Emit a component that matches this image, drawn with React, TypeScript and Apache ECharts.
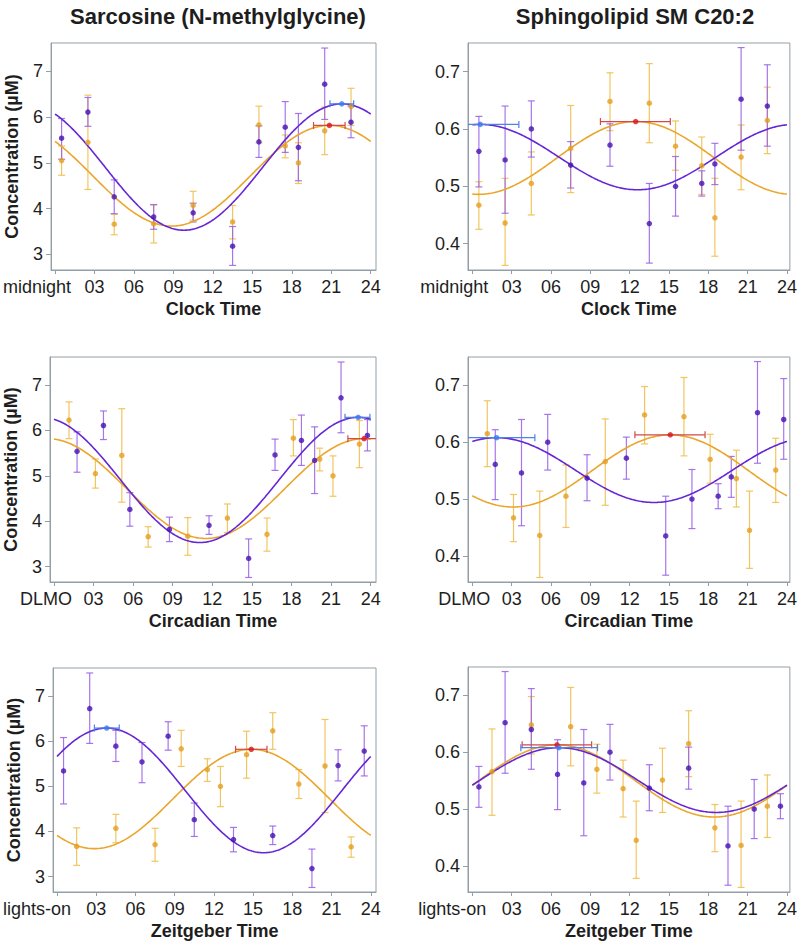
import React, { useEffect, useRef } from "react";
import * as echarts from "echarts";

const FONT = '"Liberation Sans", Arial, Helvetica, sans-serif';

const panelTitles = ["Sarcosine (N-methylglycine)", "Sphingolipid SM C20:2"];
const axisNames = ["Clock Time", "Circadian Time", "Zeitgeber Time"];
const firstTickLabels = ["midnight", "DLMO", "lights-on"];
const firstTickShift = [36, 16, 40];
const xTickValues = [0, 3, 6, 9, 12, 15, 18, 21, 24];
const sarcYTicks = [3, 4, 5, 6, 7];
const sphYTicks = [0.4, 0.5, 0.6, 0.7];
const yAxisName = "Concentration (µM)";

// sampling times for each time frame (row) — purple group and orange group
const purpleClockTimes = [0.5, 2.5, 4.5, 7.5, 10.5, 13.5, 15.5, 17.5, 18.5, 20.5, 22.5];
const orangeClockTimes = [0.5, 2.5, 4.5, 7.5, 10.5, 13.5, 15.5, 17.5, 18.5, 20.5, 22.5];
const purpleCircadianTimes = [1.75, 3.75, 5.75, 8.75, 11.75, 14.75, 16.75, 18.75, 19.75, 21.75, 23.75];
const orangeCircadianTimes = [3.14, 5.14, 7.14, 10.14, 13.14, 16.14, 18.14, 20.14, 21.14, 23.14, 1.14];
const purpleZeitgeberTimes = [6.5, 8.5, 10.5, 13.5, 16.5, 19.5, 21.5, 23.5, 0.5, 2.5, 4.5];
const orangeZeitgeberTimes = [18.5, 20.5, 22.5, 1.5, 4.5, 7.5, 9.5, 11.5, 12.5, 14.5, 16.5];

// Sarcosine values (same sample order as the time arrays)
const sarcPurpleMean = [5.54, 6.11, 4.26, 3.82, 3.91, 3.18, 5.46, 5.78, 5.34, 6.72, 5.89];
const sarcPurpleLow = [5.08, 5.8, 3.89, 3.55, 3.71, 2.76, 5.12, 5.23, 4.61, 5.95, 5.55];
const sarcPurpleHigh = [5.97, 6.43, 4.63, 4.09, 4.12, 3.61, 5.81, 6.34, 6.08, 7.51, 6.24];
const sarcOrangeMean = [5.05, 5.45, 3.66, 3.67, 4.07, 3.71, 5.83, 5.37, 5.0, 5.7, 6.23];
const sarcOrangeLow = [4.73, 4.42, 3.43, 3.25, 3.75, 3.34, 5.44, 5.11, 4.55, 5.18, 5.82];
const sarcOrangeHigh = [5.37, 6.48, 3.88, 4.08, 4.38, 4.07, 6.24, 5.61, 5.44, 6.22, 6.63];

// Sphingolipid values
const sphPurpleMean = [0.561, 0.546, 0.6, 0.537, 0.572, 0.435, 0.5, 0.505, 0.539, 0.652, 0.64];
const sphPurpleLow = [0.499, 0.453, 0.551, 0.497, 0.535, 0.366, 0.448, 0.483, 0.503, 0.563, 0.57];
const sphPurpleHigh = [0.622, 0.64, 0.649, 0.578, 0.609, 0.505, 0.552, 0.527, 0.575, 0.742, 0.712];
const sphOrangeMean = [0.467, 0.436, 0.505, 0.566, 0.648, 0.645, 0.57, 0.536, 0.445, 0.551, 0.615];
const sphOrangeLow = [0.425, 0.362, 0.45, 0.489, 0.597, 0.576, 0.528, 0.486, 0.378, 0.494, 0.557];
const sphOrangeHigh = [0.508, 0.514, 0.56, 0.641, 0.698, 0.714, 0.614, 0.586, 0.514, 0.607, 0.673];

// cosinor fits: [mesor, amplitude]; acrophase per frame [clock, circadian, zeitgeber]
const sarcPurpleMesorAmp = [4.91, 1.38];
const sarcPurpleAcrophase = [21.8, 23.05, 3.8];
const sarcPurplePeakCI = [[20.9, 22.7], [22.05, 23.94], [2.86, 4.76]];
const sarcOrangeMesorAmp = [4.72, 1.1];
const sarcOrangeAcrophase = [20.86, 23.5, 14.86];
const sarcOrangePeakCI = [[19.65, 22.05], [22.27, 24.7], [13.66, 16.06]];
const sphPurpleMesorAmp = [0.551, 0.057];
const sphPurpleAcrophase = [0.6, 1.85, 6.6];
const sphPurplePeakCI = [[-2.35, 3.55], [-1.07, 4.77], [3.7, 9.55]];
const sphOrangeMesorAmp = [0.5495, 0.0635];
const sphOrangeAcrophase = [12.46, 15.1, 6.46];
const sphOrangePeakCI = [[9.77, 15.1], [12.4, 17.75], [3.8, 9.1]];

const BORDER = "#939fa6";
const TEXT = "#1e1e1e";
const PURPLE_PT = "#4510b0";
const PURPLE_ERR = "rgba(150, 95, 232, 0.85)";
const PURPLE_LINE = "#6526d6";
const ORANGE_PT = "#e59d1f";
const ORANGE_ERR = "rgba(240, 192, 80, 0.9)";
const ORANGE_LINE = "#eaa52a";
const BLUE_PT = "#3b7bf0";
const BLUE_ERR = "#4f82e2";
const RED_PT = "#d8141c";
const RED_ERR = "#d24a4a";

const purpleTimesByRow = [purpleClockTimes, purpleCircadianTimes, purpleZeitgeberTimes];
const orangeTimesByRow = [orangeClockTimes, orangeCircadianTimes, orangeZeitgeberTimes];

function cosinor(ma: number[], acro: number, t: number) {
  return ma[0] + ma[1] * Math.cos((2 * Math.PI * (t - acro)) / 24);
}

function curveData(ma: number[], acro: number) {
  const out: number[][] = [];
  for (let i = 0; i <= 240; i++) {
    const t = i / 10;
    out.push([t, cosinor(ma, acro, t)]);
  }
  return out;
}

function vBar(color: string) {
  return (params: any, api: any) => {
    const x = api.value(0);
    const a = api.coord([x, api.value(2)]);
    const b = api.coord([x, api.value(3)]);
    const st = { stroke: color, lineWidth: 1.2 };
    return {
      type: "group",
      children: [
        { type: "line", shape: { x1: a[0], y1: a[1], x2: b[0], y2: b[1] }, style: st },
        { type: "line", shape: { x1: a[0] - 3.5, y1: a[1], x2: a[0] + 3.5, y2: a[1] }, style: st },
        { type: "line", shape: { x1: b[0] - 3.5, y1: b[1], x2: b[0] + 3.5, y2: b[1] }, style: st },
      ],
    };
  };
}

function hBar(color: string) {
  return (params: any, api: any) => {
    const y = api.value(1);
    const a = api.coord([api.value(2), y]);
    const b = api.coord([api.value(3), y]);
    const st = { stroke: color, lineWidth: 1.2 };
    return {
      type: "group",
      children: [
        { type: "line", shape: { x1: a[0], y1: a[1], x2: b[0], y2: b[1] }, style: st },
        { type: "line", shape: { x1: a[0], y1: a[1] - 3.5, x2: a[0], y2: a[1] + 3.5 }, style: st },
        { type: "line", shape: { x1: b[0], y1: b[1] - 3.5, x2: b[0], y2: b[1] + 3.5 }, style: st },
      ],
    };
  };
}

const grids = [
  { left: 50, top: 43, width: 326, height: 227 },
  { left: 468, top: 43, width: 324, height: 227 },
  { left: 50, top: 357, width: 326, height: 225 },
  { left: 468, top: 357, width: 324, height: 225 },
  { left: 50, top: 668, width: 326, height: 224 },
  { left: 468, top: 667, width: 324, height: 225 },
];

function buildOption() {
  const xAxis: any[] = [];
  const yAxis: any[] = [];
  const series: any[] = [];
  for (let i = 0; i < 6; i++) {
    const row = Math.floor(i / 2);
    const col = i % 2;
    const isSarc = col === 0;
    const pMean = isSarc ? sarcPurpleMean : sphPurpleMean;
    const pLow = isSarc ? sarcPurpleLow : sphPurpleLow;
    const pHigh = isSarc ? sarcPurpleHigh : sphPurpleHigh;
    const oMean = isSarc ? sarcOrangeMean : sphOrangeMean;
    const oLow = isSarc ? sarcOrangeLow : sphOrangeLow;
    const oHigh = isSarc ? sarcOrangeHigh : sphOrangeHigh;
    const pMA = isSarc ? sarcPurpleMesorAmp : sphPurpleMesorAmp;
    const oMA = isSarc ? sarcOrangeMesorAmp : sphOrangeMesorAmp;
    const pAc = (isSarc ? sarcPurpleAcrophase : sphPurpleAcrophase)[row];
    const oAc = (isSarc ? sarcOrangeAcrophase : sphOrangeAcrophase)[row];
    const pCI = (isSarc ? sarcPurplePeakCI : sphPurplePeakCI)[row];
    const oCI = (isSarc ? sarcOrangePeakCI : sphOrangePeakCI)[row];
    const pT = purpleTimesByRow[row];
    const oT = orangeTimesByRow[row];

    const pData = pT.map((t, k) => [t, pMean[k], pLow[k], pHigh[k]]);
    const oData = oT.map((t, k) => [t, oMean[k], oLow[k], oHigh[k]]);

    xAxis.push({
      gridIndex: i,
      type: "value",
      min: isSarc ? -0.3 : -0.33,
      max: isSarc ? 24.4 : 24.22,
      axisLine: { show: true, onZero: false, lineStyle: { color: BORDER, width: 1 } },
      axisTick: { show: true, length: 4, customValues: xTickValues, lineStyle: { color: BORDER } },
      axisLabel: {
        customValues: xTickValues,
        fontSize: 18,
        fontFamily: FONT,
        color: TEXT,
        margin: 8,
        formatter: (v: number) =>
          v === 0 ? `{first|${firstTickLabels[row]}}` : (v < 10 ? "0" : "") + String(v),
        rich: {
          first: { fontSize: 18, fontFamily: FONT, color: TEXT, padding: [0, firstTickShift[row], 0, 0] },
        },
      },
      splitLine: { show: false },
      name: axisNames[row],
      nameLocation: "middle",
      nameGap: 30,
      nameTextStyle: { fontSize: 18, fontWeight: "bold", fontFamily: FONT, color: TEXT },
    });
    yAxis.push({
      gridIndex: i,
      type: "value",
      min: isSarc ? 2.66 : 0.354,
      max: isSarc ? 7.62 : 0.75,
      axisLine: { show: true, onZero: false, lineStyle: { color: BORDER, width: 1 } },
      axisTick: { show: true, length: 5, customValues: isSarc ? sarcYTicks : sphYTicks, lineStyle: { color: BORDER } },
      axisLabel: {
        customValues: isSarc ? sarcYTicks : sphYTicks,
        fontSize: 18,
        fontFamily: FONT,
        color: TEXT,
        margin: 8,
        formatter: (v: number) => (isSarc ? String(Math.round(v)) : v.toFixed(1)),
      },
      splitLine: { show: false },
      name: isSarc ? yAxisName : "",
      nameLocation: "middle",
      nameGap: 30,
      nameTextStyle: { fontSize: 18, fontWeight: "bold", fontFamily: FONT, color: TEXT },
    });

    const common = { xAxisIndex: i, yAxisIndex: i, silent: true };
    series.push(
      { ...common, type: "custom", renderItem: vBar(ORANGE_ERR), data: oData, encode: { x: 0, y: 1 }, clip: true, z: 2 },
      { ...common, type: "custom", renderItem: vBar(PURPLE_ERR), data: pData, encode: { x: 0, y: 1 }, clip: true, z: 2 },
      { ...common, type: "line", data: curveData(oMA, oAc), showSymbol: false, lineStyle: { color: ORANGE_LINE, width: 1.6 }, z: 3 },
      { ...common, type: "line", data: curveData(pMA, pAc), showSymbol: false, lineStyle: { color: PURPLE_LINE, width: 1.6 }, z: 3 },
      { ...common, type: "scatter", data: oData.map((d) => [d[0], d[1]]), symbolSize: 5.5, itemStyle: { color: ORANGE_PT }, z: 4 },
      { ...common, type: "scatter", data: pData.map((d) => [d[0], d[1]]), symbolSize: 5.5, itemStyle: { color: PURPLE_PT }, z: 4 },
      { ...common, type: "custom", renderItem: hBar(RED_ERR), data: [[oAc, oMA[0] + oMA[1], oCI[0], oCI[1]]], encode: { x: 0, y: 1 }, clip: true, z: 5 },
      { ...common, type: "custom", renderItem: hBar(BLUE_ERR), data: [[pAc, pMA[0] + pMA[1], pCI[0], pCI[1]]], encode: { x: 0, y: 1 }, clip: true, z: 5 },
      { ...common, type: "scatter", data: [[oAc, oMA[0] + oMA[1]]], symbolSize: 5.5, itemStyle: { color: RED_PT }, z: 6 },
      { ...common, type: "scatter", data: [[pAc, pMA[0] + pMA[1]]], symbolSize: 5.5, itemStyle: { color: BLUE_PT }, z: 6 }
    );
  }

  return {
    animation: false,
    backgroundColor: "#ffffff",
    title: [
      { text: panelTitles[0], left: 213, top: 0, textAlign: "center", textStyle: { fontSize: 22, fontWeight: "bold", fontFamily: FONT, color: TEXT } },
      { text: panelTitles[1], left: 630, top: 0, textAlign: "center", textStyle: { fontSize: 22, fontWeight: "bold", fontFamily: FONT, color: TEXT } },
    ],
    grid: grids.map((g) => ({ ...g, show: true, borderColor: BORDER, borderWidth: 1, backgroundColor: "transparent" })),
    xAxis,
    yAxis,
    series,
  };
}

export default function App() {
  const ref = useRef<HTMLDivElement>(null);
  useEffect(() => {
    if (!ref.current) return;
    const chart = echarts.init(ref.current, undefined, { renderer: "svg" });
    chart.setOption(buildOption() as any);
    return () => chart.dispose();
  }, []);
  return (
    <div
      ref={ref}
      style={{ position: "absolute", left: 0, top: 0, width: 800, height: 945, background: "#fff" }}
    />
  );
}
